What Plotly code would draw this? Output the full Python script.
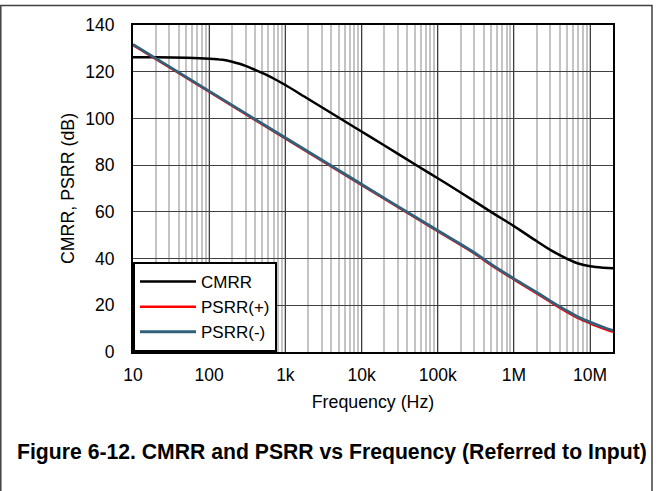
import plotly.graph_objects as go

# ---- data ----
cmrr_freq = [10, 20, 50, 100, 150, 200, 250, 300, 400, 500, 700, 1000, 2000, 5000,
             10000, 20000, 50000, 100000, 200000, 500000, 1000000, 2000000,
             3000000, 5000000, 7000000, 10000000, 15000000, 20000000]
cmrr_db = [126.2, 126.2, 126.0, 125.6, 125.1, 124.3, 123.4, 122.5, 120.8, 119.4,
           117.1, 114.3, 108.3, 100.4, 94.4, 88.4, 80.4, 74.4, 68.3, 60.0, 53.9,
           47.4, 43.7, 39.9, 37.9, 36.7, 36.1, 35.9]

psrr_freq = [10, 100, 1000, 10000, 100000, 300000, 500000, 1000000, 2000000,
             3000000, 5000000, 7000000, 10000000, 15000000, 20000000]
psrr_plus_db = [131.4, 111.4, 91.4, 71.5, 51.7, 42.3, 37.3, 31.1, 25.1,
                21.5, 17.1, 14.5, 12.3, 10.0, 8.6]
psrr_minus_db = [131.7, 111.7, 91.7, 71.8, 52.0, 42.6, 37.6, 31.4, 25.5,
                 21.9, 17.6, 15.0, 12.8, 10.6, 9.2]

x_tickvals = [10, 100, 1000, 10000, 100000, 1000000, 10000000]
x_ticktext = ["10", "100", "1k", "10k", "100k", "1M", "10M"]
y_tickvals = [0, 20, 40, 60, 80, 100, 120, 140]

W, H = 666, 491
ML, MR, MT, MB = 133, 53, 25, 139
PW, PH = W - ML - MR, H - MT - MB


def px_x(x):
    return (x - ML) / PW


def px_y(y):
    return (H - MB - y) / PH


FONT = "Liberation Sans, Arial, sans-serif"

fig = go.Figure()
fig.add_trace(go.Scatter(x=cmrr_freq, y=cmrr_db, name="CMRR", mode="lines",
                         line=dict(color="black", width=2.5, shape="spline")))
fig.add_trace(go.Scatter(x=psrr_freq, y=psrr_plus_db, name="PSRR(+)", mode="lines",
                         line=dict(color="#ff0000", width=2.5, shape="spline")))
fig.add_trace(go.Scatter(x=psrr_freq, y=psrr_minus_db, name="PSRR(-)", mode="lines",
                         line=dict(color="#31607a", width=2.8, shape="spline")))

fig.update_layout(
    width=W, height=H,
    margin=dict(l=ML, r=MR, t=MT, b=MB, pad=0),
    paper_bgcolor="white", plot_bgcolor="white",
    font=dict(family=FONT, size=17.5, color="black"),
    showlegend=True,
    legend=dict(x=0, y=0, xanchor="left", yanchor="bottom",
                bgcolor="white", bordercolor="black", borderwidth=2,
                font=dict(size=17), itemwidth=56, tracegroupgap=0),
    xaxis=dict(
        type="log", range=[1, 7.30103],
        tickvals=x_tickvals, ticktext=x_ticktext,
        showgrid=True, gridcolor="#404040", gridwidth=1.2,
        showline=True, linecolor="black", linewidth=2, mirror=True,
        ticks="", ticklabelstandoff=6,
        minor=dict(dtick="D1", showgrid=True, gridcolor="#c4c4c4", gridwidth=2, ticks=""),
        title=dict(text="Frequency (Hz)", font=dict(size=17.8), standoff=12),
        zeroline=False,
    ),
    yaxis=dict(
        range=[0, 140], tickvals=y_tickvals,
        showgrid=True, gridcolor="#404040", gridwidth=1.2,
        showline=True, linecolor="black", linewidth=2, mirror=True,
        ticks="", ticklabelstandoff=13,
        title=dict(text="CMRR, PSRR (dB)", font=dict(size=17.8), standoff=6),
        zeroline=False,
    ),
)

# outer figure frame
fig.add_shape(type="rect", xref="paper", yref="paper",
              x0=px_x(0.8), x1=px_x(652), y0=px_y(500), y1=px_y(5.5),
              line=dict(color="#404040", width=1.5), fillcolor="rgba(0,0,0,0)",
              layer="below")

fig.add_annotation(text="<b>Figure 6-12. CMRR and PSRR vs Frequency (Referred to Input)</b>",
                   xref="paper", yref="paper", x=px_x(332), y=px_y(452),
                   xanchor="center", yanchor="middle", showarrow=False,
                   font=dict(family=FONT, size=21.2, color="black"))

fig.write_html("out.html",
               config={"displayModeBar": False},
               post_script="document.body.style.margin='0px';"
                           "document.body.style.overflow='hidden';")
